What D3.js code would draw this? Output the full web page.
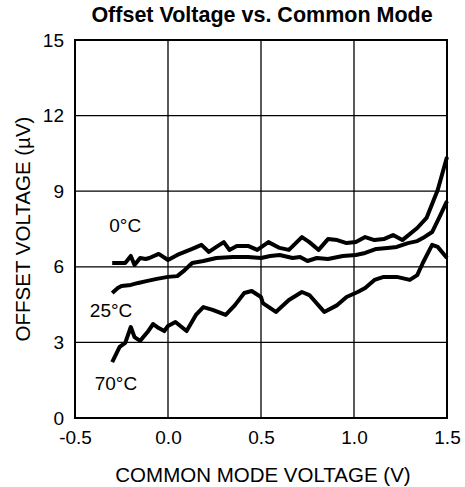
<!DOCTYPE html>
<html><head><meta charset="utf-8">
<script src="https://cdn.jsdelivr.net/npm/d3@7"></script>
<style>body{margin:0;background:#fff}svg{display:block}text{font-family:"Liberation Sans",Arial,sans-serif;fill:#000}</style>
</head><body>
<script>
const xTicks = [-0.5, 0.0, 0.5, 1.0, 1.5];
const yTicks = [0, 3, 6, 9, 12, 15];
const series0C_x = [-0.30,-0.23,-0.20,-0.18,-0.15,-0.12,-0.10,-0.05,0.00,0.05,0.09,0.13,0.18,0.22,0.26,0.30,0.33,0.37,0.43,0.48,0.54,0.60,0.65,0.72,0.76,0.81,0.86,0.91,0.96,1.01,1.06,1.11,1.16,1.21,1.26,1.34,1.39,1.45,1.50];
const series0C_y = [6.15,6.15,6.43,6.07,6.35,6.31,6.35,6.51,6.27,6.47,6.59,6.71,6.87,6.59,6.79,6.98,6.67,6.83,6.83,6.67,6.98,6.75,6.67,7.18,6.98,6.67,7.10,7.06,6.94,6.98,7.18,7.06,7.10,7.26,7.06,7.54,7.94,9.05,10.36];
const series25C_x = [-0.30,-0.27,-0.25,-0.20,-0.16,-0.11,-0.06,0.00,0.05,0.09,0.13,0.19,0.26,0.35,0.43,0.50,0.55,0.60,0.67,0.71,0.75,0.80,0.86,0.94,1.01,1.06,1.12,1.18,1.23,1.29,1.34,1.37,1.42,1.46,1.50];
const series25C_y = [4.96,5.16,5.24,5.28,5.36,5.44,5.52,5.60,5.63,5.87,6.15,6.23,6.35,6.39,6.39,6.35,6.43,6.47,6.35,6.39,6.23,6.35,6.31,6.43,6.47,6.55,6.71,6.75,6.79,6.94,7.02,7.14,7.38,7.98,8.61];
const series70C_x = [-0.30,-0.26,-0.23,-0.20,-0.18,-0.15,-0.11,-0.08,-0.05,-0.02,0.00,0.04,0.10,0.15,0.19,0.24,0.31,0.36,0.41,0.45,0.50,0.51,0.58,0.65,0.72,0.76,0.84,0.91,0.96,1.02,1.06,1.11,1.16,1.23,1.30,1.34,1.37,1.42,1.45,1.50];
const series70C_y = [2.22,2.82,2.98,3.61,3.21,3.06,3.41,3.73,3.57,3.45,3.65,3.81,3.45,4.09,4.40,4.29,4.09,4.48,4.96,5.04,4.80,4.56,4.21,4.68,5.00,4.88,4.21,4.48,4.80,5.00,5.16,5.48,5.60,5.60,5.48,5.67,6.15,6.87,6.79,6.35];
const seriesLabels = ["0°C","25°C","70°C"];
const title = "Offset Voltage vs. Common Mode";
const xTitle = "COMMON MODE VOLTAGE (V)";
const yTitle = "OFFSET VOLTAGE (µV)";

const W=465,H=487, L=75, R=447, T=40, B=418;
const FS=19;
const svg=d3.select("body").append("svg").attr("width",W).attr("height",H);
const x=d3.scaleLinear().domain([-0.5,1.5]).range([L,R]);
const y=d3.scaleLinear().domain([0,15]).range([B,T]);

// grid
svg.append("g").selectAll("line").data(xTicks.slice(1,-1)).join("line")
  .attr("x1",d=>x(d)).attr("x2",d=>x(d)).attr("y1",T).attr("y2",B)
  .attr("stroke","#000").attr("stroke-width",1.3);
svg.append("g").selectAll("line").data(yTicks.slice(1,-1)).join("line")
  .attr("y1",d=>y(d)).attr("y2",d=>y(d)).attr("x1",L).attr("x2",R)
  .attr("stroke","#000").attr("stroke-width",1.3);
svg.append("rect").attr("x",L).attr("y",T).attr("width",R-L).attr("height",B-T)
  .attr("fill","none").attr("stroke","#000").attr("stroke-width",2);

// axes labels via d3 axes
const xa=svg.append("g").attr("transform",`translate(0,${B})`)
  .call(d3.axisBottom(x).tickValues(xTicks).tickFormat(d=>d.toFixed(1)).tickSize(0).tickPadding(13));
xa.select(".domain").remove();
xa.selectAll("text").attr("font-size",FS).attr("font-family","Liberation Sans, Arial, sans-serif");
const ya=svg.append("g").attr("transform",`translate(${L},0)`)
  .call(d3.axisLeft(y).tickValues(yTicks).tickFormat(d=>String(d)).tickSize(0).tickPadding(11));
ya.select(".domain").remove();
ya.selectAll("text").attr("font-size",FS).attr("font-family","Liberation Sans, Arial, sans-serif");

// lines
const line=d3.line().x(d=>x(d[0])).y(d=>y(d[1]));
const all=[[series0C_x,series0C_y],[series25C_x,series25C_y],[series70C_x,series70C_y]];
all.forEach(([xs,ys])=>{
  svg.append("path").datum(xs.map((v,i)=>[v,ys[i]])).attr("d",line)
    .attr("fill","none").attr("stroke","#000").attr("stroke-width",4).attr("stroke-linejoin","round");
});

// series labels
const labPos=[[-0.23,7.38],[-0.306,4.01],[-0.28,1.11]];
svg.selectAll("text.sl").data(seriesLabels).join("text").attr("class","sl")
  .attr("x",(d,i)=>x(labPos[i][0])).attr("y",(d,i)=>y(labPos[i][1]))
  .attr("text-anchor","middle").attr("font-size",FS).text(d=>d);

svg.append("text").attr("x",262).attr("y",22).attr("text-anchor","middle")
  .attr("font-size",21.5).attr("font-weight","bold").text(title);
svg.append("text").attr("x",263).attr("y",482).attr("text-anchor","middle")
  .attr("font-size",20.5).text(xTitle);
svg.append("text").attr("transform",`translate(30,${(T+B)/2}) rotate(-90)`).attr("text-anchor","middle")
  .attr("font-size",20.5).text(yTitle);
</script>
</body></html>
